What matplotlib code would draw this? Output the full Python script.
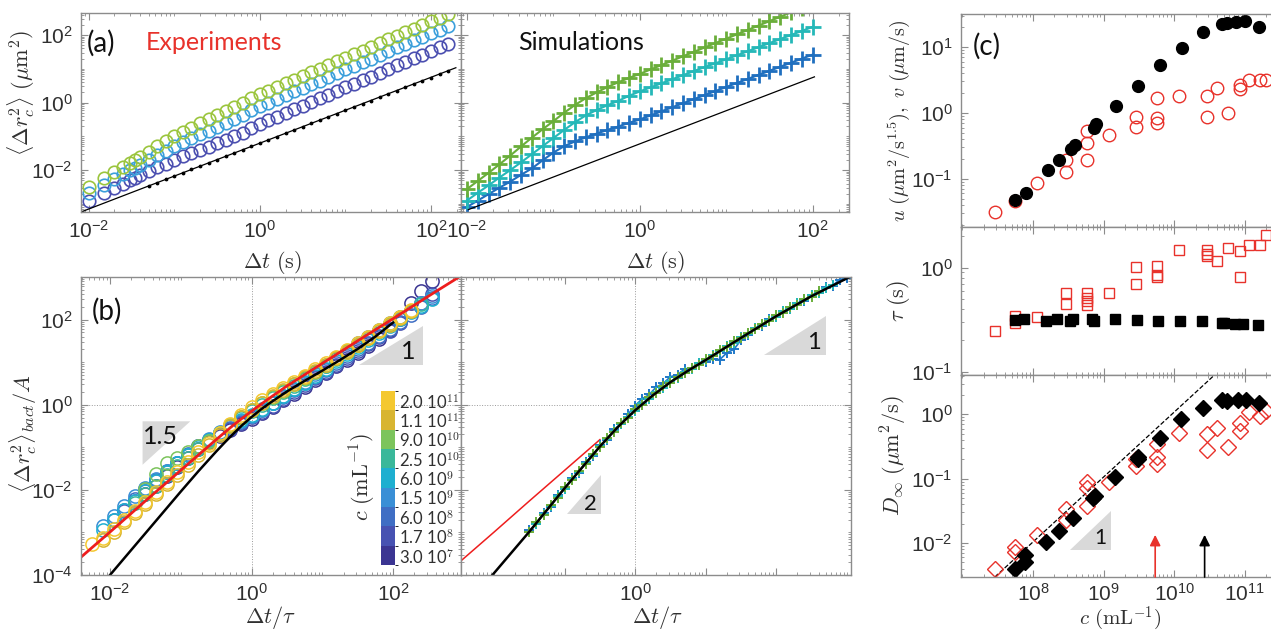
import numpy as np
import matplotlib
matplotlib.use('Agg')
import matplotlib.pyplot as plt
from matplotlib.ticker import FixedLocator, LogLocator, FuncFormatter, NullFormatter
from matplotlib.colors import ListedColormap, BoundaryNorm
from matplotlib.cm import ScalarMappable
from matplotlib.patches import Polygon

plt.rcParams['font.family'] = ['Liberation Sans', 'DejaVu Sans']
plt.rcParams['mathtext.fontset'] = 'cm'

# ---- data, all values are log10 of what was read off the figure ----
# (a) experiments: MSD of the colloid, three concentrations
exp_t = [-2.0, -1.82, -1.70, -1.60, -1.52, -1.46, -1.40, -1.30, -1.20, -1.10, -1.00,
         -0.90, -0.80, -0.70, -0.60, -0.50, -0.40, -0.30, -0.20, -0.10, 0.00,
         0.10, 0.20, 0.30, 0.40, 0.50, 0.60, 0.70, 0.80, 0.90, 1.00, 1.10, 1.20,
         1.30, 1.40, 1.50, 1.60, 1.70, 1.80, 1.90, 2.00, 2.10, 2.20]
exp_green = [-2.50, -2.24, -2.06, -1.90, -1.78, -1.69, -1.60, -1.45, -1.30, -1.15, -1.00,
             -0.87, -0.75, -0.62, -0.50, -0.38, -0.26, -0.13, -0.01, 0.12, 0.24,
             0.35, 0.46, 0.57, 0.68, 0.78, 0.89, 1.00, 1.11, 1.22, 1.33, 1.44, 1.54,
             1.65, 1.76, 1.87, 1.98, 2.08, 2.19, 2.30, 2.41, 2.51, 2.62]
exp_blue = [-2.68, -2.44, -2.27, -2.12, -2.01, -1.93, -1.84, -1.70, -1.56, -1.43, -1.29,
            -1.17, -1.06, -0.94, -0.83, -0.72, -0.61, -0.48, -0.36, -0.23, -0.11,
            0.00, 0.11, 0.22, 0.33, 0.43, 0.54, 0.65, 0.76, 0.87, 0.98, 1.09, 1.19,
            1.30, 1.41, 1.52, 1.63, 1.73, 1.84, 1.95, 2.06, 2.16, 2.27]
exp_purple = [-2.92, -2.69, -2.54, -2.40, -2.30, -2.23, -2.15, -2.03, -1.92, -1.81, -1.69,
              -1.59, -1.50, -1.40, -1.31, -1.21, -1.11, -1.00, -0.89, -0.76, -0.64,
              -0.53, -0.42, -0.31, -0.20, -0.10, 0.01, 0.12, 0.23, 0.34, 0.45, 0.56, 0.66,
              0.77, 0.88, 0.99, 1.10, 1.20, 1.31, 1.42, 1.53, 1.63, 1.74]
# passive colloid (black dots) and its linear fit
dot_t = exp_t[7:]
dot_msd = [-2.47, -2.37, -2.27, -2.17, -2.08, -1.98, -1.88, -1.79, -1.69, -1.59, -1.49,
           -1.40, -1.30, -1.20, -1.11, -1.01, -0.91, -0.81, -0.72, -0.62, -0.52, -0.42,
           -0.33, -0.23, -0.13, -0.04, 0.06, 0.16, 0.26, 0.35, 0.45, 0.55, 0.65, 0.74,
           0.84, 0.94]
exp_line_t = [-2.07, 2.29]
exp_line_msd = [-3.22, 1.03]

# (a) simulations
sim_t = [-2.0, -1.875, -1.75, -1.625, -1.5, -1.375, -1.25, -1.125, -1.0, -0.875, -0.75,
         -0.625, -0.5, -0.375, -0.25, -0.125, 0.0, 0.125, 0.25, 0.375, 0.5, 0.625,
         0.75, 0.875, 1.0, 1.125, 1.25, 1.375, 1.5, 1.625, 1.75, 1.875, 2.0]
sim_green = [-2.56, -2.32, -2.08, -1.83, -1.57, -1.30, -1.04, -0.79, -0.55, -0.30, -0.07,
             0.13, 0.30, 0.46, 0.60, 0.73, 0.85, 0.98, 1.11, 1.24, 1.37, 1.50,
             1.63, 1.76, 1.89, 2.02, 2.15, 2.28, 2.41, 2.54, 2.67, 2.80, 2.93]
sim_teal = [-2.90, -2.67, -2.45, -2.22, -2.00, -1.77, -1.53, -1.29, -1.05, -0.81, -0.58,
            -0.38, -0.22, -0.08, 0.05, 0.20, 0.33, 0.45, 0.57, 0.69, 0.81, 0.93,
            1.05, 1.16, 1.28, 1.40, 1.52, 1.64, 1.76, 1.88, 2.00, 2.12, 2.24]
sim_blue = [-3.09, -2.90, -2.71, -2.52, -2.34, -2.14, -1.95, -1.71, -1.48, -1.29, -1.15,
            -1.03, -0.92, -0.81, -0.71, -0.60, -0.50, -0.38, -0.26, -0.14, -0.02, 0.10,
            0.22, 0.34, 0.46, 0.58, 0.70, 0.82, 0.94, 1.06, 1.18, 1.30, 1.42]
sim_line_t = [-1.985, 2.02]
sim_line_msd = [-3.17, 0.76]

# (b) rescaled experiments, one list per concentration (nan = no point)
nan = np.nan
res_x = [-2.25, -2.10, -1.95, -1.80, -1.65, -1.50, -1.35, -1.20, -1.05, -0.90, -0.75,
         -0.60, -0.45, -0.30, -0.15, 0.00, 0.15, 0.30, 0.45, 0.60, 0.75, 0.90,
         1.05, 1.20, 1.35, 1.50, 1.65, 1.80, 1.95, 2.10, 2.25, 2.40, 2.55]
res_y = {
    '3.0 10$^{7}$': [nan, nan, nan, nan, nan, -2.10, -1.90, -1.68, -1.46, -1.25, -1.05,
                     -0.88, -0.74, -0.60, -0.46, -0.33, -0.20, -0.06, 0.10, 0.26, 0.42, 0.58,
                     0.74, 0.90, 1.06, 1.22, 1.38, 1.54, 1.75, 2.02, 2.40, 2.66, 2.90],
    '1.7 10$^{8}$': [nan, nan, nan, -2.50, -2.26, -2.02, -1.80, -1.58, -1.37, -1.17, -0.98,
                     -0.82, -0.70, -0.58, -0.44, -0.30, -0.16, -0.02, 0.14, 0.30, 0.46, 0.62,
                     0.78, 0.94, 1.10, 1.26, 1.42, 1.58, 1.74, 1.92, 2.20, 2.40, 2.60],
    '6.0 10$^{8}$': [nan, nan, -2.70, -2.48, -2.22, -1.98, -1.76, -1.56, -1.36, -1.16, -0.98,
                     -0.82, -0.68, -0.54, -0.40, -0.26, -0.12, 0.03, 0.18, 0.34, 0.50, 0.66,
                     0.82, 0.98, 1.14, 1.30, 1.46, 1.62, 1.78, 1.94, 2.10, 2.30, 2.50],
    '1.5 10$^{9}$': [nan, -2.86, -2.62, -2.38, -2.15, -1.95, -1.75, -1.55, -1.36, -1.17, -0.98,
                     -0.80, -0.64, -0.50, -0.38, -0.26, -0.12, 0.03, 0.20, 0.37, 0.54, 0.71,
                     0.92, 1.10, 1.27, 1.44, 1.60, 1.76, 1.91, 2.06, 2.21, 2.38, 2.56],
    '6.0 10$^{9}$': [nan, -2.95, -2.70, -2.48, -2.26, -2.02, -1.80, -1.58, -1.38, -1.18, -0.99,
                     -0.82, -0.66, -0.51, -0.37, -0.24, -0.10, 0.05, 0.20, 0.36, 0.52, 0.68,
                     0.85, 1.02, 1.19, 1.36, 1.53, 1.69, 1.85, 2.01, 2.17, 2.33, 2.49],
    '2.5 10$^{10}$': [nan, nan, nan, nan, -2.30, -2.10, -1.90, -1.66, -1.44, -1.24, -1.04,
                      -0.86, -0.67, -0.49, -0.31, -0.15, 0.00, 0.15, 0.30, 0.45, 0.60, 0.76,
                      0.92, 1.08, 1.24, 1.40, 1.56, 1.72, 1.88, 2.04, 2.20, 2.36, nan],
    '9.0 10$^{10}$': [nan, nan, nan, nan, nan, -1.98, -1.62, -1.38, -1.25, -1.12, -0.98,
                      -0.86, -0.66, -0.48, -0.30, -0.13, 0.03, 0.18, 0.33, 0.48, 0.63, 0.78,
                      0.93, 1.09, 1.25, 1.41, 1.57, 1.73, 1.89, 2.05, 2.21, nan, nan],
    '1.1 10$^{11}$': [nan, -3.18, -2.98, -2.76, -2.55, -2.33, -2.10, -1.87, -1.64, -1.41, -1.18,
                      -0.95, -0.72, -0.50, -0.30, -0.12, 0.05, 0.20, 0.34, 0.49, 0.64, 0.79,
                      0.94, 1.09, 1.24, 1.40, 1.56, 1.72, 1.88, 2.04, 2.20, nan, nan],
    '2.0 10$^{11}$': [-3.27, -3.12, -2.93, -2.71, -2.50, -2.28, -2.05, -1.82, -1.58, -1.35, -1.12,
                      -0.89, -0.67, -0.45, -0.25, -0.06, 0.10, 0.25, 0.39, 0.53, 0.68, 0.83,
                      0.98, 1.13, 1.28, 1.44, 1.59, 1.75, 1.91, 2.07, 2.23, nan, nan],
}
conc_colors = ['#3B3592', '#4752B2', '#3F6EC4', '#3A8FD6', '#1EAFD0',
               '#3AB89A', '#7CC45C', '#D8B531', '#F4C830']

# fits in (b)
red_x = [-2.50, -2.0, -1.5, -1.0, -0.5, -0.25, 0.0, 0.25, 0.5, 1.0, 1.5, 2.0, 2.5, 3.0]
red_y = [-3.71, -2.99, -2.26, -1.54, -0.82, -0.47, -0.15, 0.15, 0.44, 0.97, 1.50, 2.02, 2.55, 3.07]
blk_exp_x = [-2.0, -1.5, -1.0, -0.75, -0.5, -0.375, -0.25, -0.125, 0.0, 0.125, 0.25, 0.5,
             0.75, 1.0, 1.25, 1.5, 1.75, 2.0]
blk_exp_y = [-4.0, -3.02, -2.04, -1.56, -1.10, -0.88, -0.67, -0.47, -0.29, -0.12, 0.03, 0.31,
             0.56, 0.80, 1.05, 1.31, 1.60, 1.93]
blk_sim_x = [-2.05, -1.5, -1.0, -0.75, -0.5, -0.25, 0.0, 0.25, 0.5, 0.75, 1.0, 1.5, 2.0, 2.5, 3.1]
blk_sim_y = [-4.05, -2.98, -1.96, -1.47, -0.98, -0.53, -0.13, 0.22, 0.53, 0.80, 1.05, 1.57, 2.08, 2.55, 3.05]

# (b) rescaled simulations
rs_x = [-1.5, -1.4, -1.3, -1.2, -1.1, -1.0, -0.9, -0.8, -0.7, -0.6, -0.5, -0.4, -0.3, -0.2,
        -0.1, 0.0, 0.1, 0.2, 0.3, 0.4, 0.5, 0.6, 0.7, 0.8, 0.9, 1.0, 1.1, 1.2, 1.3, 1.4,
        1.5, 1.6, 1.7, 1.8, 1.9, 2.0, 2.1, 2.2, 2.3, 2.4, 2.5, 2.6, 2.7, 2.8, 2.9, 3.0]
rs_blue = [-2.95, -2.80, -2.55, -2.40, -2.13, -1.99, -1.73, -1.60, -1.34, -1.21, -0.95, -0.83,
           -0.58, -0.45, -0.22, -0.02, 0.14, 0.24, 0.42, 0.50, 0.66, 0.70, 0.84, 0.86, 0.98,
           1.00, 1.08, 1.06, 1.22, 1.30, 1.52, 1.64, 1.80, 1.86, 2.01, 2.06, 2.20, 2.25, 2.39,
           2.44, 2.58, 2.62, 2.76, 2.80, 2.94, 2.98]
rs_teal = [nan, -2.80, -2.56, -2.38, -2.15, -1.97, -1.75, -1.58, -1.36, -1.19, -0.97, -0.81,
           -0.61, -0.46, -0.28, -0.14, 0.03, 0.14, 0.30, 0.40, 0.55, 0.63, 0.77, 0.84, 0.97,
           1.04, 1.17, 1.25, 1.38, 1.46, 1.59, 1.66, 1.80, 1.87, 2.00, 2.07, 2.19, 2.26, 2.38,
           2.45, 2.57, 2.63, 2.75, 2.81, nan, nan]
rs_green = [-3.00, -2.76, -2.58, -2.35, -2.18, -1.94, -1.78, -1.55, -1.39, -1.16, -1.00, -0.78,
            -0.64, -0.43, -0.31, -0.11, 0.00, 0.17, 0.27, 0.43, 0.52, 0.66, 0.74, 0.87, 0.94,
            1.07, 1.14, 1.28, 1.35, 1.49, 1.56, 1.69, 1.77, 1.90, 1.97, 2.10, 2.16, 2.29, 2.35,
            2.48, 2.54, 2.66, nan, nan, nan, nan]

# (c) parameters versus concentration c (mL^-1)
c_u = [7.75, 7.90, 8.21, 8.37, 8.54, 8.59, 8.87, 8.89, 9.18, 9.48, 9.80, 10.11, 10.40,
       10.67, 10.74, 10.87, 11.00, 11.20]
u_val = [-1.32, -1.22, -0.87, -0.72, -0.54, -0.49, -0.23, -0.17, 0.10, 0.41, 0.72, 0.98, 1.22,
         1.35, 1.37, 1.38, 1.40, 1.31]
c_v = [7.46, 7.75, 8.05, 8.46, 8.46, 8.76, 8.76, 8.76, 9.07, 9.46, 9.46, 9.76, 9.76, 9.76,
       10.07, 10.46, 10.46, 10.61, 10.76, 10.93, 10.93, 11.06, 11.21, 11.30]
v_val = [-1.51, -1.34, -1.06, -0.71, -0.90, -0.28, -0.46, -0.72, -0.33, -0.06, -0.21, 0.22,
         -0.08, -0.15, 0.26, 0.26, -0.06, 0.38, 0.0, 0.42, 0.36, 0.50, 0.50, 0.50]
c_tau_b = [7.75, 7.87, 8.19, 8.34, 8.52, 8.56, 8.83, 8.87, 9.16, 9.47, 9.77, 10.08, 10.39,
           10.67, 10.70, 10.86, 10.98, 11.19]
tau_b = [-0.50, -0.49, -0.51, -0.49, -0.51, -0.49, -0.49, -0.51, -0.49, -0.50, -0.51, -0.51,
         -0.51, -0.53, -0.53, -0.54, -0.54, -0.55]
c_tau_r = [7.46, 7.75, 7.75, 8.05, 8.46, 8.46, 8.76, 8.76, 8.76, 8.76, 9.07, 9.46, 9.46, 9.76,
           9.76, 9.76, 10.07, 10.46, 10.46, 10.46, 10.61, 10.76, 10.93, 10.93, 11.06, 11.21, 11.30]
tau_r = [-0.61, -0.46, -0.53, -0.47, -0.24, -0.35, -0.24, -0.29, -0.32, -0.36, -0.24, 0.01,
         -0.16, 0.02, -0.07, -0.09, 0.17, 0.17, 0.13, 0.11, 0.06, 0.19, 0.16, -0.09, 0.22,
         0.22, 0.31]
c_d_b = [7.75, 7.89, 7.89, 8.19, 8.37, 8.57, 8.85, 8.88, 9.16, 9.48, 9.48, 9.80, 10.10,
         10.40, 10.67, 10.74, 10.90, 11.02, 11.20]
d_b = [-2.40, -2.19, -2.29, -1.98, -1.81, -1.62, -1.30, -1.27, -0.97, -0.66, -0.69, -0.37,
       -0.08, 0.09, 0.22, 0.21, 0.22, 0.22, 0.17]
c_d_r = [7.46, 7.75, 7.75, 8.05, 8.46, 8.46, 8.76, 8.76, 8.76, 9.07, 9.46, 9.46, 9.76, 9.76,
         9.76, 10.07, 10.46, 10.46, 10.61, 10.76, 10.93, 10.93, 11.06, 11.21, 11.30]
d_r = [-2.40, -2.06, -2.14, -1.88, -1.47, -1.64, -1.06, -1.15, -1.42, -1.06, -0.70, -0.81,
       -0.47, -0.66, -0.77, -0.29, -0.31, -0.55, -0.21, -0.51, -0.13, -0.26, 0.03, -0.03, 0.05]
slope_c = [7.46, 10.57]
slope_d = [-2.53, 0.61]
arrow_c_red = 9.73
arrow_c_black = 10.43


def p10(v):
    return np.power(10.0, np.asarray(v, dtype=float))


# ---- figure ----
W, H = 1271, 631
fig = plt.figure(figsize=(W / 100, H / 100), dpi=100)

spine_c = '#8c8c8c'
lab_c = '#303030'
red = '#E8322B'


def px_axes(x0, y0, x1, y1):
    return fig.add_axes([x0 / W, 1 - y1 / H, (x1 - x0) / W, (y1 - y0) / H])


def pow_fmt(v, pos):
    return r'$\mathregular{10^{%d}}$' % int(round(np.log10(v)))


def style(ax, xlim, ylim, xmaj, ymaj):
    ax.set_xscale('log')
    ax.set_yscale('log')
    ax.set_xlim(xlim)
    ax.set_ylim(ylim)
    ax.xaxis.set_major_locator(FixedLocator(xmaj))
    ax.yaxis.set_major_locator(FixedLocator(ymaj))
    ax.xaxis.set_major_formatter(FuncFormatter(pow_fmt))
    ax.yaxis.set_major_formatter(FuncFormatter(pow_fmt))
    for a in (ax.xaxis, ax.yaxis):
        a.set_minor_locator(LogLocator(10, subs=np.arange(1, 10), numticks=100))
        a.set_minor_formatter(NullFormatter())
    ax.tick_params(which='both', direction='in', top=True, right=True,
                   color=spine_c, labelcolor=lab_c, labelsize=15, pad=6)
    ax.tick_params(which='major', length=5, width=0.8)
    ax.tick_params(which='minor', length=2.5, width=0.6)
    for s in ax.spines.values():
        s.set_color(spine_c)
        s.set_linewidth(1.0)


def xlab(ax, text, x, y, size=16):
    ax.set_xlabel(text, fontsize=size, color=lab_c)
    ax.xaxis.set_label_coords(x, y)
    ax.xaxis.label.set_verticalalignment('center')


def ylab(ax, text, x, y, size=16):
    ax.set_ylabel(text, fontsize=size, color=lab_c)
    ax.yaxis.set_label_coords(x, y)
    ax.yaxis.label.set_verticalalignment('center')


def wedge(ax, pts, label, lx, ly, size):
    ax.add_patch(Polygon(p10(pts), closed=True, facecolor='#d9d9d9',
                         edgecolor='none', zorder=0.5))
    ax.text(10 ** lx, 10 ** ly, label, fontsize=size, family='Lato',
            ha='center', va='center', color='#111111', zorder=1)


# (a) experiments
ax1 = px_axes(81, 13, 461, 212)
style(ax1, (10 ** -2.09, 10 ** 2.35), (10 ** -3.24, 10 ** 2.65), [1e-2, 1, 1e2], [1e-2, 1, 1e2])
for ys, col in [(exp_purple, '#4B4FB0'), (exp_blue, '#3B9FDB'), (exp_green, '#9BC53D')]:
    ax1.plot(p10(exp_t), p10(ys), 'o', mfc='none', mec=col, ms=9, mew=1.2)
ax1.plot(p10(exp_line_t), p10(exp_line_msd), '-', color='black', lw=0.9)
ax1.plot(p10(dot_t), p10(dot_msd), '.', color='black', ms=3.5)
ax1.text(0.016, 0.85, '(a)', transform=ax1.transAxes, fontsize=20, family='Lato',
         va='center', color='#111111')
ax1.text(0.171, 0.85, 'Experiments', transform=ax1.transAxes, fontsize=18,
         family='Lato', va='center', color=red)
xlab(ax1, r'$\Delta t\ (\mathrm{s})$', 0.503, -0.256)
ylab(ax1, r'$\langle \Delta r_c^2 \rangle\ (\mu\mathrm{m}^2)$', -0.158, 0.6)

# (a) simulations
ax2 = px_axes(461, 13, 849, 212)
style(ax2, (10 ** -2.07, 10 ** 2.42), (10 ** -3.24, 10 ** 2.65), [1e-2, 1, 1e2], [1e-2, 1, 1e2])
ax2.tick_params(labelleft=False)
for ys, col in [(sim_blue, '#1F6FBF'), (sim_teal, '#25B8B8'), (sim_green, '#6AAE3A')]:
    ax2.plot(p10(sim_t), p10(ys), '-+', color=col, ms=11, mew=2.0, lw=1.5)
ax2.plot(p10(sim_line_t), p10(sim_line_msd), '-', color='black', lw=0.9)
ax2.text(0.147, 0.85, 'Simulations', transform=ax2.transAxes, fontsize=18,
         family='Lato', va='center', color='#111111')
xlab(ax2, r'$\Delta t\ (\mathrm{s})$', 0.5, -0.256)

# (b) rescaled experiments
ax3 = px_axes(81, 277, 461, 575)
style(ax3, (10 ** -2.41, 10 ** 2.96), (1e-4, 1e3), [1e-2, 1, 1e2], [1e-4, 1e-2, 1, 1e2])
ax3.axvline(1, color='#9a9a9a', lw=0.7, ls=':', zorder=0.3)
ax3.axhline(1, color='#9a9a9a', lw=0.7, ls=':', zorder=0.3)
for (lab, ys), col in zip(res_y.items(), conc_colors):
    ax3.plot(p10(res_x), p10(ys), 'o', mfc='none', mec=col, ms=9.5, mew=1.1)
ax3.plot(p10(red_x), p10(red_y), '-', color='#EE1D1D', lw=2.0)
ax3.plot(p10(blk_exp_x), p10(blk_exp_y), '-', color='black', lw=1.8)
wedge(ax3, [(1.52, 0.93), (2.42, 0.93), (2.42, 1.84)], '1', 2.21, 1.24, 18)
wedge(ax3, [(-1.54, -0.39), (-0.865, -0.39), (-1.54, -1.41)], '1.5', -1.29, -0.75, 18)
ax3.text(0.029, 0.886, '(b)', transform=ax3.transAxes, fontsize=20, family='Lato',
         va='center', color='#111111')
xlab(ax3, r'$\Delta t/\tau$', 0.5, -0.144)
ylab(ax3, r'$\langle \Delta r_c^2 \rangle_{bact}/A$', -0.153, 0.476)

# discrete colour bar for the concentrations
cax = px_axes(381, 391, 395, 565)
cb = fig.colorbar(ScalarMappable(norm=BoundaryNorm(np.arange(10), 9),
                                 cmap=ListedColormap(conc_colors)),
                  cax=cax, ticks=np.arange(9) + 0.5)
cb.ax.set_yticklabels(list(res_y.keys()))
for t in cb.ax.get_yticklabels():
    t.set_family('Lato')
    t.set_fontsize(12)
    t.set_color(lab_c)
cb.outline.set_visible(False)
cb.ax.tick_params(length=0, pad=3)
fig.text(363 / W, 1 - 477 / H, r'$c\ (\mathrm{mL}^{-1})$', rotation=90, fontsize=16,
         ha='center', va='center', color=lab_c)

# (b) rescaled simulations
ax4 = px_axes(461, 277, 851, 575)
style(ax4, (10 ** -2.47, 10 ** 3.06), (1e-4, 1e3), [0.1, 1, 10, 100], [1e-4, 1e-2, 1, 1e2])
ax4.xaxis.set_major_formatter(FuncFormatter(lambda v, p: pow_fmt(v, p) if abs(v - 1) < 1e-9 else ''))
ax4.tick_params(labelleft=False)
ax4.axvline(1, color='#9a9a9a', lw=0.7, ls=':', zorder=0.3)
ax4.axhline(1, color='#9a9a9a', lw=0.7, ls=':', zorder=0.3)
ax4.plot(p10(red_x[:5]), p10(red_y[:5]), '-', color='#EE1D1D', lw=1.1)
for ys, col in [(rs_blue, '#1F78C8'), (rs_teal, '#25B8B8'), (rs_green, '#6AAE3A')]:
    ax4.plot(p10(rs_x), p10(ys), '-+', color=col, ms=7, mew=1.4, lw=1.2)
ax4.plot(p10(blk_sim_x), p10(blk_sim_y), '-', color='black', lw=1.8)
wedge(ax4, [(1.82, 1.16), (2.71, 1.16), (2.71, 2.09)], '1', 2.54, 1.46, 17)
wedge(ax4, [(-0.97, -2.56), (-0.49, -2.56), (-0.49, -1.65)], '2', -0.64, -2.33, 16)
xlab(ax4, r'$\Delta t/\tau$', 0.505, -0.144)

# (c) parameters versus concentration
cxlim = (10 ** 6.98, 10 ** 11.37)
ax5 = px_axes(961, 14, 1271, 227)
style(ax5, cxlim, (10 ** -1.73, 10 ** 1.5), [1e8, 1e9, 1e10, 1e11], [0.1, 1, 10])
ax5.plot(p10(c_v), p10(v_val), 'o', mfc='none', mec=red, ms=9, mew=1.0)
ax5.plot(p10(c_u), p10(u_val), 'o', color='black', ms=8.5)
ax5.tick_params(labelbottom=False)
ax5.text(0.039, 0.85, '(c)', transform=ax5.transAxes, fontsize=20, family='Lato',
         va='center', color='#111111')
ylab(ax5, r'$u\ (\mu\mathrm{m}^2/\mathrm{s}^{1.5}),\ v\ (\mu\mathrm{m/s})$', -0.2, 0.5, 14.5)

ax6 = px_axes(961, 227, 1271, 375)
style(ax6, cxlim, (10 ** -1.03, 10 ** 0.39), [1e8, 1e9, 1e10, 1e11], [0.1, 1])
ax6.plot(p10(c_tau_r), p10(tau_r), 's', mfc='none', mec=red, ms=7.5, mew=1.0)
ax6.plot(p10(c_tau_b), p10(tau_b), 's', color='black', ms=7)
ax6.tick_params(labelbottom=False)
ylab(ax6, r'$\tau\ (\mathrm{s})$', -0.2, 0.5)

ax7 = px_axes(961, 375, 1271, 577)
style(ax7, cxlim, (10 ** -2.53, 10 ** 0.61), [1e8, 1e9, 1e10, 1e11], [1e-2, 0.1, 1])
ax7.tick_params(axis='x', pad=4)
ax7.plot(p10(slope_c), p10(slope_d), '--', color='black', lw=0.9)
ax7.plot(p10(c_d_r), p10(d_r), 'D', mfc='none', mec=red, ms=8, mew=1.0)
ax7.plot(p10(c_d_b), p10(d_b), 'D', color='black', ms=8)
wedge(ax7, [(8.52, -2.11), (9.11, -2.11), (9.11, -1.51)], '1', 8.95, -1.93, 15)
for cpos, col in [(arrow_c_red, red), (arrow_c_black, 'black')]:
    ax7.annotate('', xy=(10 ** cpos, 10 ** -1.875), xytext=(10 ** cpos, 10 ** -2.53),
                 arrowprops=dict(arrowstyle='-|>', color=col, lw=1.2,
                                 mutation_scale=16, shrinkA=0, shrinkB=0))
xlab(ax7, r'$c\ (\mathrm{mL}^{-1})$', 0.513, -0.207, 15)
ylab(ax7, r'$D_\infty\ (\mu\mathrm{m}^2/\mathrm{s})$', -0.215, 0.6)

for ax in (ax5, ax6, ax7):
    ax.spines['right'].set_visible(False)
    ax.tick_params(which='both', right=False)

fig.savefig('out.png', dpi=100)
